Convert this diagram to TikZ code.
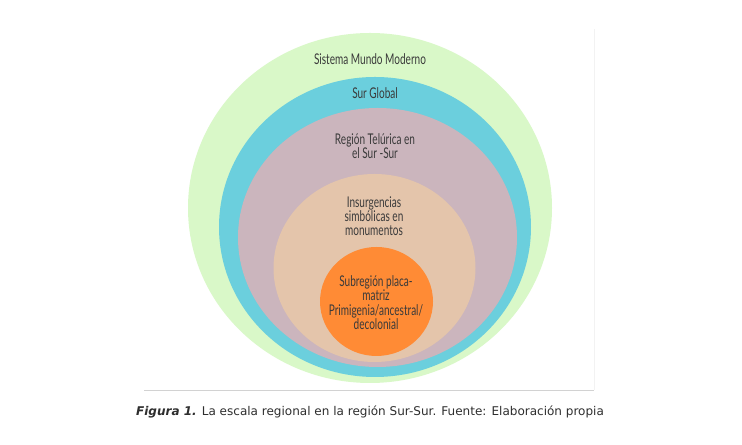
\documentclass[tikz,border=0pt]{standalone}
\usepackage{fontspec}
\setmainfont{DejaVu Sans}
\newfontfamily\handfont[FakeStretch=0.68]{Lato}
\definecolor{mundocol}{HTML}{D9F8C8}
\definecolor{surcol}{HTML}{6BCFDD}
\definecolor{regioncol}{HTML}{CBB5BD}
\definecolor{insurgcol}{HTML}{E4C5AB}
\definecolor{placacol}{HTML}{FF8B35}
\definecolor{textcol}{HTML}{3A3A3A}
\definecolor{rulecol}{HTML}{D2D2D2}
\tikzset{
  lbl/.style={align=center,text=textcol,font=\handfont\fontsize{10.5}{10.2}\selectfont},
  caption/.style={text=textcol!80!black,font=\fontsize{8.55}{10}\selectfont}
}
\begin{document}
\begin{tikzpicture}
\useasboundingbox (0,0) rectangle (18.55,11.125);
\fill [white](0,0) rectangle (18.55,11.125);
\fill [color=mundocol](9.25,5.925) ellipse (4.55 and 4.375);
\fill [color=surcol](9.375,5.45) ellipse (3.9 and 3.75);
\fill [color=regioncol](9.4375,5.1875) ellipse (3.4875 and 3.2375);
\fill [color=insurgcol](9.3625,4.425) ellipse (2.525 and 2.35);
\fill [color=placacol](9.4125,3.5875) ellipse (1.4125 and 1.3625);
\draw [color=rulecol, thin](3.6,1.375) -- (14.85,1.375);
\draw [color=black!5, ultra thin](14.85,1.375) -- (14.85,10.4);
\node (mundo) [lbl] at (9.25,9.65) {Sistema Mundo Moderno};
\node (sur) [lbl] at (9.375,8.8) {Sur Global};
\node (region) [lbl] at (9.375,7.47) {Región Telúrica en\\el Sur -Sur};
\node (insurg) [lbl] at (9.35,5.72) {Insurgencias\\simbólicas en\\monumentos};
\node (placa) [lbl] at (9.4,3.56) {Subregión placa-\\matriz\\Primigenia/ancestral/\\decolonial};
\node (pie) [caption] at (9.25,0.83) {\textbf{\textit{Figura 1.}} La escala regional en la región Sur-Sur. Fuente: Elaboración propia};
\end{tikzpicture}
\end{document}
